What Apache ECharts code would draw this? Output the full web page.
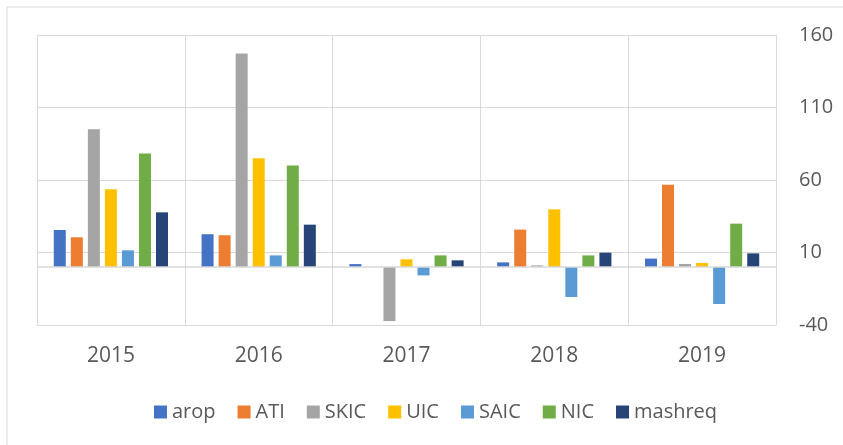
<!DOCTYPE html>
<html>
<head>
<meta charset="utf-8">
<script src="https://cdn.jsdelivr.net/npm/echarts@6/dist/echarts.min.js"></script>
<style>html,body{margin:0;padding:0;background:#fff;}#c{width:843px;height:445px;}</style>
</head>
<body>
<div id="c"></div>
<script>
var years = ['2015', '2016', '2017', '2018', '2019'];
var seriesNames = ['arop', 'ATI', 'SKIC', 'UIC', 'SAIC', 'NIC', 'mashreq'];
var arop    = [25.5, 22.6, 2.0, 3.2, 5.8];
var ATI     = [20.5, 21.9, 0, 25.8, 56.8];
var SKIC    = [95, 147.3, -37.3, 1.1, 2.1];
var UIC     = [53.6, 75, 5.3, 39.8, 2.8];
var SAIC    = [11.5, 8, -5.8, -20.7, -25.5];
var NIC     = [78.2, 70, 8, 8, 29.9];
var mashreq = [37.7, 29.2, 4.6, 9.9, 9.4];
var yTicks = [-40, 10, 60, 110, 160];

var values = [arop, ATI, SKIC, UIC, SAIC, NIC, mashreq];
var colors = ['#4472C4', '#ED7D31', '#A5A5A5', '#FFC000', '#5B9BD5', '#70AD47', '#264478'];
var font = '"Open Sans", "Liberation Sans", sans-serif';

var series = seriesNames.map(function (n, i) {
  var s = {
    name: n,
    type: 'bar',
    data: values[i],
    barWidth: 12,
    barGap: '42%',
    itemStyle: { color: colors[i] }
  };
  if (i === 0) {
    s.markLine = {
      silent: true,
      symbol: 'none',
      label: { show: false },
      lineStyle: { color: '#d9d9d9', width: 1.5, type: 'solid' },
      data: [{ yAxis: 0 }]
    };
  }
  return s;
});

var chart = echarts.init(document.getElementById('c'));
chart.setOption({
  animation: false,
  textStyle: { fontFamily: font },
  graphic: [{
    type: 'rect',
    shape: { x: 7, y: 7, width: 1000, height: 1000 },
    style: { fill: 'none', stroke: '#d9d9d9', lineWidth: 1 },
    silent: true
  }],
  grid: { left: 37, right: 67, top: 35, bottom: 120 },
  legend: {
    data: seriesNames,
    left: 149,
    top: 397,
    itemWidth: 13,
    itemHeight: 13,
    itemGap: 22,
    icon: 'rect',
    textStyle: { fontFamily: font, fontSize: 20, color: '#595959', padding: [0, 0, 0, 0] }
  },
  xAxis: {
    type: 'category',
    data: years,
    axisLine: { show: false },
    axisTick: { show: false },
    splitLine: { show: true, lineStyle: { color: '#d9d9d9', width: 1 } },
    axisLabel: { fontFamily: font, fontSize: 21, color: '#595959', margin: 21 }
  },
  yAxis: {
    type: 'value',
    position: 'right',
    min: yTicks[0],
    max: yTicks[yTicks.length - 1],
    interval: 50,
    axisLine: { show: false },
    axisTick: { show: false },
    splitLine: { show: true, lineStyle: { color: '#d9d9d9', width: 1 } },
    axisLabel: { fontFamily: font, fontSize: 20, color: '#595959', margin: 23, align: 'left' }
  },
  series: series
});
</script>
</body>
</html>
